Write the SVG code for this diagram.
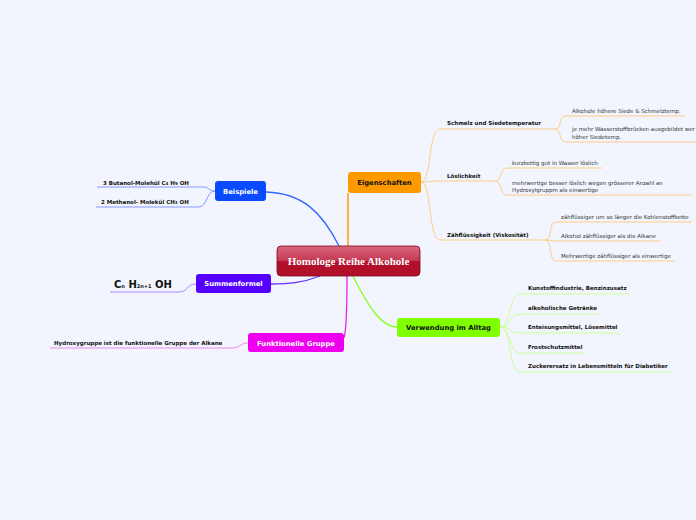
<svg xmlns="http://www.w3.org/2000/svg" width="696" height="520" viewBox="0 0 696 520">
<defs>
<linearGradient id="cg" x1="0" y1="0" x2="0" y2="1">
<stop offset="0" stop-color="#d8677d"/>
<stop offset="0.48" stop-color="#c63a55"/>
<stop offset="0.52" stop-color="#b3102c"/>
<stop offset="1" stop-color="#b00e29"/>
</linearGradient>
<style>
.t{font-family:"DejaVu Sans",Verdana,sans-serif;font-size:5.5px;fill:#333}
.b{font-family:"DejaVu Sans",Verdana,sans-serif;font-size:5.5px;font-weight:bold;fill:#111}
.n{font-family:"DejaVu Sans",Verdana,sans-serif;font-size:6.8px;font-weight:bold;text-anchor:middle}
.c{fill:none;stroke-width:1}
.o{stroke:#ffcc88}
.g{stroke:#ccff99}
.sub{font-size:4px}
</style>
</defs>
<rect width="696" height="520" fill="#f2f5fd"/>
<g id="connectors" class="c">
<path d="M348,246 L348,193" stroke="#ff9900" stroke-width="1.4"/>
<path d="M339,246 C322,212 302,193 266,192" stroke="#3366ff" stroke-width="1.3"/>
<path d="M320,276 C302,283 288,284 271,284" stroke="#6633ff" stroke-width="1.3"/>
<path d="M347,276 C347,300 347,328 344,338" stroke="#ee22ee" stroke-width="1.3"/>
<path d="M353,276 C366,302 380,327 397,327" stroke="#88ff22" stroke-width="1.3"/>
<path class="o" d="M421,182 C432,182 428,129 440,129 L555,129"/>
<path class="o" d="M421,182 C430,182 432,181 440,181 L495,181"/>
<path class="o" d="M421,182 C432,182 428,240 440,240 L545,240"/>
<path class="o" d="M555,129 C563,129 557,116 566,116 L685,116"/>
<path class="o" d="M555,129 C563,129 557,142 566,142 L696,142"/>
<path class="o" d="M495,181 C503,181 499,168 507,168 L602,168"/>
<path class="o" d="M495,181 C503,181 499,195 507,195 L692,195"/>
<path class="o" d="M545,240 C553,240 548,222 556,222 L692,222"/>
<path class="o" d="M545,240 C553,240 548,241 556,241 L660,241"/>
<path class="o" d="M545,240 C553,240 548,261 556,261 L675,261"/>
<path class="g" d="M500,327 C512,327 508,294 520,294 L630,294"/>
<path class="g" d="M500,327 C512,327 508,314 520,314 L600,314"/>
<path class="g" d="M500,327 C512,327 508,333 520,333 L620,333"/>
<path class="g" d="M500,327 C512,327 508,353 520,353 L585,353"/>
<path class="g" d="M500,327 C512,327 508,372 520,372 L670,372"/>
<path d="M215,191 C208,191 210,187 203,187 L97,187" stroke="#8899ff"/>
<path d="M215,191 C206,191 208,207 198,207 L96,207" stroke="#8899ff"/>
<path d="M196,284 C186,284 189,292 178,292 L110,292" stroke="#aa88ff"/>
<path d="M248,343 C240,343 240,348 232,348 L50,348" stroke="#ee88ee"/>
</g>
<g id="center">
<rect x="277" y="246" width="143" height="30" rx="4" fill="url(#cg)" stroke="#7a0a1c" stroke-width="0.8"/>
<text x="348.5" y="264.8" font-family="'Liberation Serif','Times New Roman',serif" font-size="11" font-weight="bold" fill="#fff" text-anchor="middle">Homologe Reihe Alkohole</text>
</g>
<g id="eigenschaften">
<rect x="348" y="172" width="73" height="21" rx="3" fill="#ff9900"/>
<text class="n" x="384.5" y="185" fill="#111">Eigenschaften</text>
</g>
<g id="schmelz">
<text class="b" x="447" y="125">Schmelz und Siedetemperatur</text>
<text class="t" x="572" y="113">Alkohole höhere Siede &amp; Schmelztemp.</text>
<text class="t" x="572" y="131">je mehr Wasserstoffbrücken ausgebildet wer</text>
<text class="t" x="572" y="138.5">höher Siedetemp.</text>
</g>
<g id="loeslichkeit">
<text class="b" x="447" y="178">Löslichkeit</text>
<text class="t" x="512" y="165">kurzkettig gut in Wasser löslich</text>
<text class="t" x="512" y="184.5">mehrwertige besser löslich wegen grösserer Anzahl an</text>
<text class="t" x="512" y="191.5">Hydroxylgruppm als einwertige</text>
</g>
<g id="zaehfluessigkeit">
<text class="b" x="447" y="237">Zähflüssigkeit (Viskosität)</text>
<text class="t" x="561" y="218.5">zähflüssiger um so länger die Kohlenstoffkette</text>
<text class="t" x="561" y="237.5">Alkohol zähflüssiger als die Alkane</text>
<text class="t" x="561" y="257.5">Mehrwertige zähflüssiger als einwertige</text>
</g>
<g id="verwendung">
<rect x="397" y="318" width="103" height="19" rx="3" fill="#80ff00"/>
<text class="n" x="448.5" y="330" fill="#111">Verwendung im Alltag</text>
<text class="b" x="528" y="290">Kunstoffindustrie, Benzinzusatz</text>
<text class="b" x="528" y="310">alkoholische Getränke</text>
<text class="b" x="528" y="329">Enteisungsmittel, Lösemittel</text>
<text class="b" x="528" y="349">Frostschutzmittel</text>
<text class="b" x="528" y="368">Zuckerersatz in Lebensmitteln für Diabetiker</text>
</g>
<g id="beispiele">
<rect x="215" y="181" width="51" height="20" rx="3" fill="#0a4bff"/>
<text class="n" x="240.5" y="193.5" fill="#fff">Beispiele</text>
<text class="b" x="103" y="184.5">3 Butanol-Molehül C<tspan class="sub">4</tspan> H<tspan class="sub">9</tspan> OH</text>
<text class="b" x="101" y="204">2 Methanol- Molekül CH<tspan class="sub">3</tspan> OH</text>
</g>
<g id="summenformel">
<rect x="196" y="274" width="75" height="19" rx="3" fill="#5500ff"/>
<text class="n" x="233.5" y="286" fill="#fff">Summenformel</text>
<text x="114" y="288" font-family="'DejaVu Sans',Verdana,sans-serif" font-size="10" font-weight="bold" fill="#111">C<tspan font-size="5">n</tspan> H<tspan font-size="5">2n+1</tspan> OH</text>
</g>
<g id="funktionelle">
<rect x="248" y="333" width="96" height="19" rx="3" fill="#ee00ee"/>
<text class="n" x="296" y="345.5" fill="#fff">Funktionelle Gruppe</text>
<text class="b" x="54" y="345">Hydroxygruppe ist die funktionelle Gruppe der Alkane</text>
</g>
</svg>
